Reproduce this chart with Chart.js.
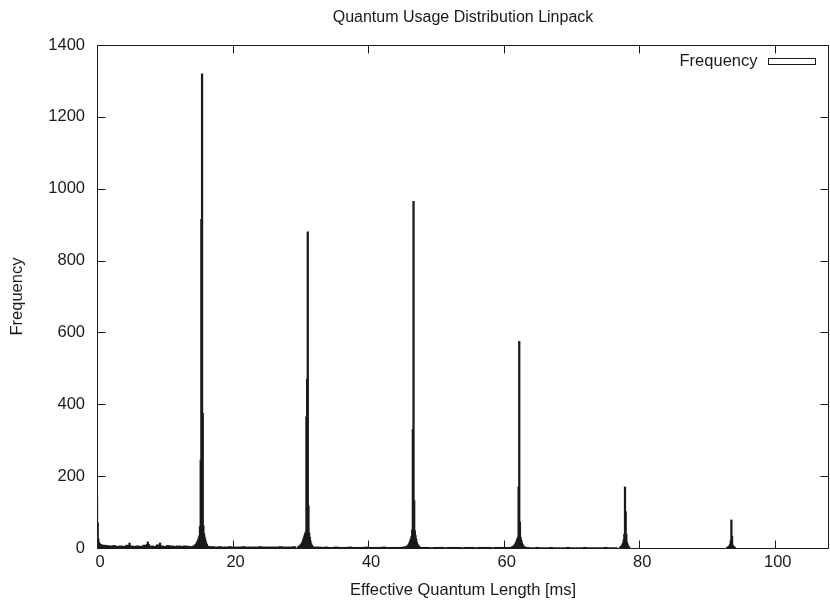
<!DOCTYPE html>
<html>
<head>
<meta charset="utf-8">
<script src="https://cdn.jsdelivr.net/npm/chart.js@4"></script>
<style>
  html, body { margin: 0; padding: 0; background: #fff; }
  #wrap { width: 830px; height: 601px; }
</style>
</head>
<body>
<div id="wrap"><canvas id="c" width="830" height="601"></canvas></div>
<script>
// ---- data ----
const chartTitle = 'Quantum Usage Distribution Linpack';
const xTitle = 'Effective Quantum Length [ms]';
const yTitle = 'Frequency';
const seriesLabel = 'Frequency';
const xTicks = [0, 20, 40, 60, 80, 100];
const yTicks = [0, 200, 400, 600, 800, 1000, 1200, 1400];

// fine histogram bins (0.1 ms)
const fineBin = 0.1;
const zeroStart = 0.0;
const zeroCounts = [140, 70, 25, 15, 12];
const peak1Start = 14.1;
const peak1Counts = [4, 5, 6, 7, 9, 11, 14, 18, 22, 28, 34, 60, 245, 915, 1320, 375, 62, 40, 30, 22, 15, 10, 6, 4, 3];
const peak2Start = 29.7;
const peak2Counts = [4, 5, 6, 8, 10, 13, 17, 22, 28, 34, 40, 45, 365, 470, 880, 117, 42, 30, 20, 12, 8, 5, 3];
const peak3Start = 45.5;
const peak3Counts = [3, 4, 5, 6, 8, 11, 15, 20, 26, 32, 50, 330, 965, 132, 48, 35, 25, 16, 10, 7, 5, 3, 2];
const peak4Start = 61.2;
const peak4Counts = [3, 4, 5, 6, 8, 11, 15, 20, 25, 30, 170, 575, 72, 30, 22, 15, 10, 6, 4, 3, 2];
const peak5Start = 77.2;
const peak5Counts = [3, 4, 6, 9, 14, 22, 38, 170, 101, 38, 16, 9, 5, 3];
const peak6Start = 93.0;
const peak6Counts = [2, 3, 4, 6, 10, 20, 78, 33, 8, 5, 3, 2];
const bumpX = [4.8, 7.5, 9.3];
const bumpCounts = [14, 17, 14];

// background floor (0.5 ms bins)
const floorBin = 0.5;
const floorAStart = 0.5;
const floorACounts = [10, 8, 7, 6, 7, 5, 6, 5, 8, 6, 5, 6, 5, 8, 10, 6, 5, 9, 6, 5, 7, 6, 5, 6, 5, 6, 5, 4];
const floorBStart = 16.6;
const floorBCounts = [4, 4, 3, 4, 3, 3, 4, 3, 3, 3, 4, 3, 3, 3, 3, 4, 3, 3, 3, 3, 3, 4, 3, 3, 3, 4];
const floorCStart = 32.3;
const floorCCounts = [3, 3, 2, 3, 2, 2, 3, 2, 2, 2, 3, 2, 2, 2, 2, 3, 2, 2, 2, 2, 3, 2, 2, 2, 2, 2, 3];
const floorDStart = 47.9;
const floorDCounts = [2, 2, 2, 1, 2, 2, 2, 1, 2, 2, 2, 2, 1, 2, 2, 2, 1, 2, 2, 2, 2, 1, 2, 2, 2, 2, 2];
const floorEStart = 63.5;
const floorECounts = [2, 1, 1, 2, 1, 1, 1, 2, 1, 1, 1, 1, 2, 1, 1, 1, 1, 2, 1, 1, 1, 1, 1, 2, 1, 1, 1];

// ---- build histogram points ----
function bins(start, width, counts) {
  return counts.map((c, i) => ({ x: +(start + i * width).toFixed(2), y: c }));
}
const finePoints = [].concat(
  bins(zeroStart, fineBin, zeroCounts),
  bins(peak1Start, fineBin, peak1Counts),
  bins(peak2Start, fineBin, peak2Counts),
  bins(peak3Start, fineBin, peak3Counts),
  bins(peak4Start, fineBin, peak4Counts),
  bins(peak5Start, fineBin, peak5Counts),
  bins(peak6Start, fineBin, peak6Counts),
  bumpX.map((x, i) => ({ x: x, y: bumpCounts[i] }))
);
const floorPoints = [].concat(
  bins(floorAStart, floorBin, floorACounts),
  bins(floorBStart, floorBin, floorBCounts),
  bins(floorCStart, floorBin, floorCCounts),
  bins(floorDStart, floorBin, floorDCounts),
  bins(floorEStart, floorBin, floorECounts)
);

const INK = '#1a1a1a';
const FONT = '"Liberation Sans", Arial, Helvetica, sans-serif';
const FS = 16.5;

const framePlugin = {
  id: 'gnuplotFrame',
  afterDraw(chart) {
    const { ctx, chartArea, scales } = chart;
    const L = Math.round(chartArea.left) + 0.5;
    const T = Math.round(chartArea.top) + 0.5;
    const R = Math.round(chartArea.right) - 0.5;
    const B = Math.round(chartArea.bottom) + 0.5;
    ctx.save();
    ctx.strokeStyle = INK;
    ctx.lineWidth = 1;
    ctx.beginPath();
    ctx.rect(L, T, R - L, B - T);
    // inward ticks (gnuplot style, mirrored)
    const tl = 8;
    scales.x.ticks.forEach(t => {
      const px = Math.round(scales.x.getPixelForValue(t.value)) + 0.5;
      ctx.moveTo(px, B); ctx.lineTo(px, B - tl);
      ctx.moveTo(px, T); ctx.lineTo(px, T + tl);
    });
    scales.y.ticks.forEach(t => {
      const py = Math.round(scales.y.getPixelForValue(t.value)) + 0.5;
      ctx.moveTo(L, py); ctx.lineTo(L + tl, py);
      ctx.moveTo(R, py); ctx.lineTo(R - tl, py);
    });
    ctx.stroke();

    // title
    ctx.fillStyle = INK;
    ctx.font = '16px ' + FONT;
    ctx.textAlign = 'center';
    ctx.textBaseline = 'middle';
    ctx.fillText(chartTitle, (chartArea.left + chartArea.right) / 2, 18);

    // legend (gnuplot key, text left of sample)
    const label = chart.data.datasets[0].label;
    ctx.font = FS + 'px ' + FONT;
    ctx.textAlign = 'right';
    ctx.fillText(label, R - 71, T + 16);
    ctx.fillStyle = '#fff';
    ctx.fillRect(R - 60, T + 13, 47, 6);
    ctx.strokeRect(R - 60, T + 13, 47, 6);
    ctx.restore();
  }
};

new Chart(document.getElementById('c'), {
  type: 'bar',
  data: {
    datasets: [
      {
        label: seriesLabel,
        data: finePoints,
        backgroundColor: INK,
        borderWidth: 0,
        barThickness: 1.6,
        grouped: false,
        order: 1
      },
      {
        label: seriesLabel + ' (floor)',
        data: floorPoints,
        backgroundColor: INK,
        borderWidth: 0,
        barThickness: 3.5,
        grouped: false,
        order: 2
      }
    ]
  },
  options: {
    responsive: false,
    animation: false,
    events: [],
    layout: { padding: { top: 45, right: 1, left: 0, bottom: 0 } },
    plugins: {
      legend: { display: false },
      title: { display: false },
      tooltip: { enabled: false }
    },
    scales: {
      x: {
        type: 'linear',
        min: 0,
        max: 108,
        offset: false,
        grid: { display: false, offset: false, drawTicks: false },
        border: { display: false },
        afterBuildTicks: s => { s.ticks = xTicks.map(v => ({ value: v })); },
        afterFit: s => { s.height = 53; },
        ticks: {
          color: INK,
          font: { family: FONT, size: FS },
          padding: 5,
          labelOffset: 3,
          maxRotation: 0,
          autoSkip: false,
          callback: v => String(v)
        },
        title: {
          display: true,
          text: xTitle,
          color: INK,
          font: { family: FONT, size: FS },
          padding: { top: 0, bottom: 1 }
        }
      },
      y: {
        type: 'linear',
        min: 0,
        max: 1400,
        grid: { display: false, drawTicks: false },
        border: { display: false },
        afterBuildTicks: s => { s.ticks = yTicks.map(v => ({ value: v })); },
        afterFit: s => { s.width = 97; },
        ticks: {
          color: INK,
          font: { family: FONT, size: FS },
          padding: 12,
          callback: v => String(v)
        },
        title: {
          display: true,
          text: yTitle,
          color: INK,
          font: { family: FONT, size: FS },
          padding: { top: 8, bottom: 0 }
        }
      }
    }
  },
  plugins: [framePlugin]
});
</script>
</body>
</html>
